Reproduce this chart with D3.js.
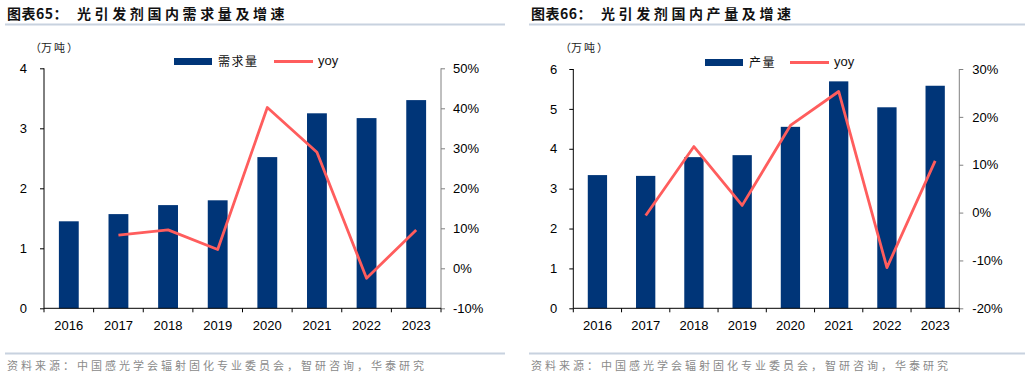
<!DOCTYPE html>
<html><head><meta charset="utf-8">
<script src="https://cdn.jsdelivr.net/npm/d3@7"></script>
<style>
body{margin:0;background:#fff;}
svg{display:block;font-family:"Liberation Sans",Arial,sans-serif;}
</style></head>
<body><svg id="c" width="1030" height="378"></svg>
<script>
const years = ['2016','2017','2018','2019','2020','2021','2022','2023'];
const demand = [1.45, 1.57, 1.72, 1.80, 2.52, 3.25, 3.17, 3.47];
const demandYoy = [null, 8.3, 9.6, 4.7, 40.2, 29.0, -2.5, 9.6];
const production = [3.34, 3.32, 3.79, 3.84, 4.55, 5.69, 5.04, 5.58];
const productionYoy = [null, -0.6, 13.8, 1.5, 18.2, 25.3, -11.5, 10.8];
const demandTicks = [0,1,2,3,4];
const demandYoyTicks = [-10,0,10,20,30,40,50];
const prodTicks = [0,1,2,3,4,5,6];
const prodYoyTicks = [-20,-10,0,10,20,30];

const BAR = '#003578', LINE = '#ff5d5d', CJK = '"Noto Sans CJK SC","Noto Sans",sans-serif';
const svg = d3.select('#c');

function chart(o){
  const g = svg.append('g');
  // title
  const t = g.append('text').attr('x', o.left).attr('y', 19).attr('font-family', CJK)
    .attr('font-weight','bold').attr('font-size', 14).attr('fill','#111');
  t.append('tspan').attr('letter-spacing', 0.5).text(o.titleA);
  t.append('tspan').attr('x', o.left + 70).attr('letter-spacing', 3.6).text(o.titleB);
  g.append('line').attr('x1', o.left - 2).attr('x2', o.right).attr('y1', 24.5).attr('y2', 24.5)
    .attr('stroke', '#c8d2df').attr('stroke-width', 2);
  // footer
  g.append('line').attr('x1', o.left - 2).attr('x2', o.right).attr('y1', 353.5).attr('y2', 353.5)
    .attr('stroke', '#c8d2df').attr('stroke-width', 2);
  g.append('text').attr('x', o.left).attr('y', 370).attr('font-family', CJK).attr('font-size', 11)
    .attr('letter-spacing', 3).attr('fill', '#8a8a8a')
    .text('资料来源：中国感光学会辐射固化专业委员会，智研咨询，华泰研究');
  // unit
  const u = g.append('text').attr('y', 52).attr('font-family', CJK).attr('font-size', 11).attr('fill', '#222');
  u.append('tspan').attr('x', o.unitX).text('（');
  u.append('tspan').attr('x', o.unitX + 11).attr('letter-spacing', 2).text('万吨');
  u.append('tspan').attr('x', o.unitX + 37).text('）');

  const x = d3.scaleBand().domain(years).range([o.x0, o.x1]).paddingInner(0.6).paddingOuter(0.3);
  const y = d3.scaleLinear().domain(d3.extent(o.ticks)).range([o.yB, o.yT]);
  const y2 = d3.scaleLinear().domain(d3.extent(o.yoyTicks)).range([o.yB, o.yT]);

  g.append('g').selectAll('rect').data(years).join('rect')
    .attr('x', d => x(d)).attr('width', x.bandwidth())
    .attr('y', (d,i) => y(o.bars[i])).attr('height', (d,i) => y(0) - y(o.bars[i]))
    .attr('fill', BAR);

  const pts = years.map((d,i) => [d, o.yoy[i]]).filter(p => p[1] !== null);
  g.append('path').datum(pts)
    .attr('d', d3.line().x(p => x(p[0]) + x.bandwidth()/2).y(p => y2(p[1])))
    .attr('fill','none').attr('stroke', LINE).attr('stroke-width', 2.8).attr('stroke-linejoin','round');

  // left axis
  const ax = g.append('g').attr('transform', `translate(${o.x0},0)`)
    .call(d3.axisLeft(y).tickValues(o.ticks).tickSize(4).tickPadding(o.lp).tickFormat(d3.format('d')));
  ax.select('.domain').attr('stroke','#000').attr('d', `M0,${o.yT}V${o.yB}`);
  ax.selectAll('text').attr('font-size', 13).attr('fill','#000').attr('font-family','"Liberation Sans",Arial,sans-serif');
  // right axis
  const ar = g.append('g').attr('transform', `translate(${o.x1},0)`)
    .call(d3.axisRight(y2).tickValues(o.yoyTicks).tickSize(4).tickPadding(o.rp).tickFormat(d => d + '%'));
  ar.select('.domain').attr('stroke','#808080').attr('d', `M0,${o.yT}V${o.yB}`);
  ar.selectAll('line').attr('stroke','#808080');
  ar.selectAll('text').attr('font-size', 13).attr('fill','#000').attr('font-family','"Liberation Sans",Arial,sans-serif');
  // bottom axis
  const ab = g.append('g').attr('transform', `translate(0,${o.yB})`)
    .call(d3.axisBottom(x).tickSize(0).tickPadding(12.5));
  ab.select('.domain').attr('stroke','#000').attr('d', `M${o.x0},0H${o.x1}`);
  ab.selectAll('text').attr('font-size', 13).attr('fill','#000').attr('font-family','"Liberation Sans",Arial,sans-serif');
  const bounds = d3.range(years.length + 1).map(i => o.x0 + i * x.step());
  ab.selectAll('line.bt').data(bounds).join('line').attr('class','bt')
    .attr('x1', d => d).attr('x2', d => d).attr('y1', 0).attr('y2', 4).attr('stroke','#000');

  // legend
  const lg = g.append('g');
  lg.append('rect').attr('x', o.lgX).attr('y', o.lgY - 3.5).attr('width', 38).attr('height', 7).attr('fill', BAR);
  lg.append('text').attr('x', o.lgX + 44).attr('y', o.lgY + 4.5).attr('font-family', CJK).attr('font-size', 12)
    .attr('letter-spacing', 1.5).attr('fill','#111').text(o.barName);
  lg.append('line').attr('x1', o.lgX + o.lgL).attr('x2', o.lgX + o.lgL + 39).attr('y1', o.lgY).attr('y2', o.lgY)
    .attr('stroke', LINE).attr('stroke-width', 2.8);
  lg.append('text').attr('x', o.lgX + o.lgL + 44).attr('y', o.lgY + 3.5).attr('font-size', 13).attr('fill','#111').text('yoy');
}

chart({left:7, right:505, titleA:'图表65：', titleB:'光引发剂国内需求量及增速', unitX:30,
  x0:44, x1:441, yT:68.3, yB:308.3, ticks:demandTicks, yoyTicks:demandYoyTicks,
  bars:demand, yoy:demandYoy, lp:13, rp:8, lgX:174, lgY:61.5, lgL:100, barName:'需求量'});
chart({left:531, right:1025, titleA:'图表66：', titleB:'光引发剂国内产量及增速', unitX:560,
  x0:573.3, x1:959.3, yT:69, yB:308.3, ticks:prodTicks, yoyTicks:prodYoyTicks,
  bars:production, yoy:productionYoy, lp:12, rp:9, lgX:705, lgY:62.5, lgL:85, barName:'产量'});
</script></body></html>
